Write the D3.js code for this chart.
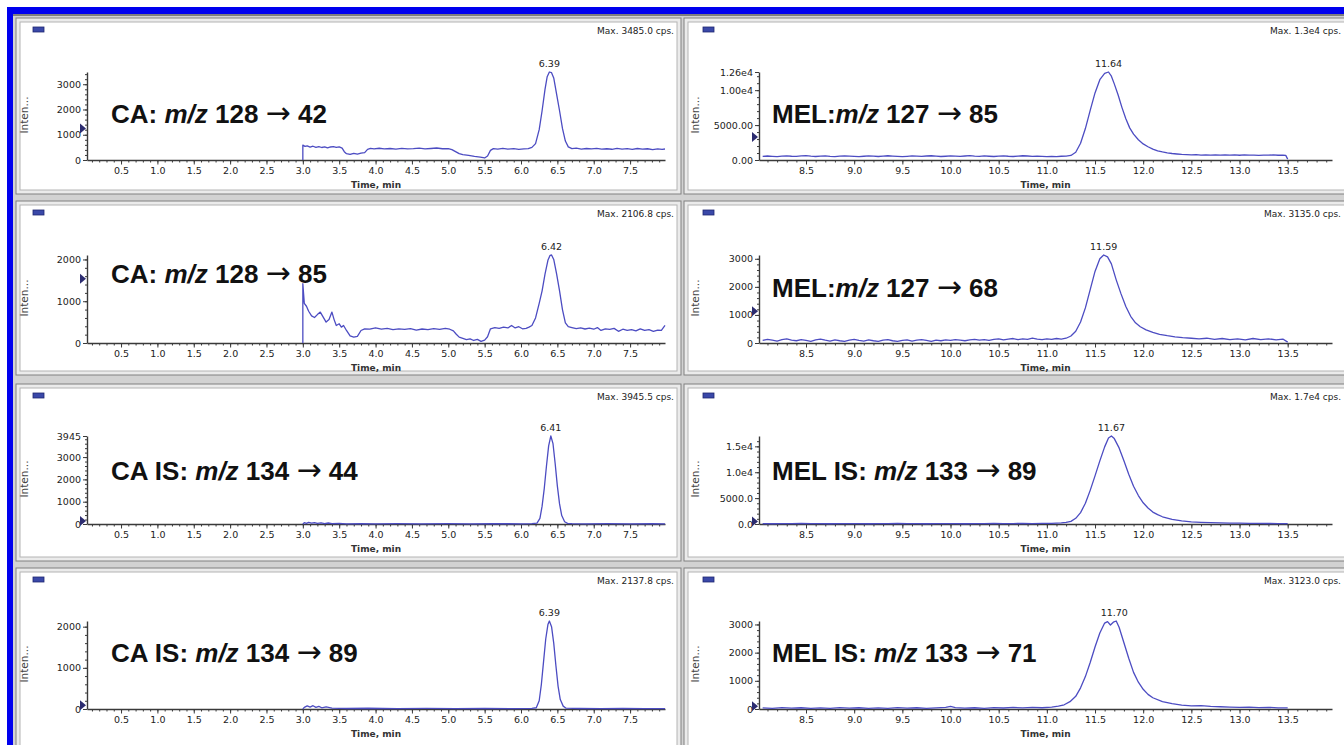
<!DOCTYPE html>
<html><head><meta charset="utf-8">
<script src="https://cdn.jsdelivr.net/npm/d3@7"></script>
<style>html,body{margin:0;padding:0;background:#fff;overflow:hidden}</style>
</head><body><svg id="c" width="1344" height="745"></svg>
<script>
// ---------------- DATA ----------------
const titleLead = ["CA: ", "CA: ", "CA IS: ", "CA IS: ", "MEL:", "MEL:", "MEL IS: ", "MEL IS: "];
const titlePrecursor = ["128", "128", "134", "134", "127", "127", "133", "133"];
const titleProduct = ["42", "85", "44", "89", "85", "68", "89", "71"];
const maxTexts = ["Max. 3485.0 cps.", "Max. 2106.8 cps.", "Max. 3945.5 cps.", "Max. 2137.8 cps.", "Max. 1.3e4 cps.", "Max. 3135.0 cps.", "Max. 1.7e4 cps.", "Max. 3123.0 cps."];
const peakTexts = ["6.39", "6.42", "6.41", "6.39", "11.64", "11.59", "11.67", "11.70"];
const peakTimes = [6.39, 6.42, 6.41, 6.39, 11.64, 11.59, 11.67, 11.70];
const yMax = [3485, 2106.8, 3945, 2137.8, 12600, 3135, 17000, 3123];
const yTicks = [[0,1000,2000,3000],[0,1000,2000],[0,1000,2000,3000,3945],[0,1000,2000],
                [0,5000,10000,12600],[0,1000,2000,3000],[0,5000,10000,15000],[0,1000,2000,3000]];
const yTickLabels = [["0","1000","2000","3000"],["0","1000","2000"],["0","1000","2000","3000","3945"],["0","1000","2000"],
                     ["0.00","5000.00","1.00e4","1.26e4"],["0","1000","2000","3000"],["0.0","5000.0","1.0e4","1.5e4"],["0","1000","2000","3000"]];
const yMinorStep = [200, 200, 200, 200, 1000, 200, 1000, 200];
const markerValues = [1250, 1540, 130, 90, 3300, 1130, 500, 100];
const xTicksLeft = [0.5,1.0,1.5,2.0,2.5,3.0,3.5,4.0,4.5,5.0,5.5,6.0,6.5,7.0,7.5];
const xTicksRight = [8.5,9.0,9.5,10.0,10.5,11.0,11.5,12.0,12.5,13.0,13.5];

const traceCA42 = [[3.00,0],[3.00,590],[3.03,540],[3.06,560],[3.10,510],[3.14,545],[3.18,500],[3.22,530],[3.26,495],[3.30,520],[3.34,480],[3.38,515],[3.42,530],[3.46,500],[3.50,520],[3.54,470],[3.57,330],[3.60,250],[3.65,220],[3.70,265],[3.75,230],[3.80,270],[3.85,290],[3.89,420],[3.93,460],[3.98,440],[4.05,465],[4.12,440],[4.20,455],[4.28,430],[4.36,460],[4.44,440],[4.52,450],[4.60,470],[4.68,440],[4.76,455],[4.84,475],[4.92,445],[5.00,450],[5.05,410],[5.10,330],[5.15,250],[5.20,210],[5.28,180],[5.36,140],[5.44,110],[5.50,80],[5.54,160],[5.58,380],[5.62,450],[5.68,430],[5.75,460],[5.82,430],[5.90,450],[5.97,420],[6.04,440],[6.10,450],[6.15,500],[6.20,650],[6.25,1200],[6.29,1950],[6.33,2800],[6.36,3300],[6.39,3485],[6.42,3460],[6.45,3250],[6.49,2600],[6.53,1950],[6.57,1250],[6.61,750],[6.65,520],[6.70,450],[6.76,470],[6.83,430],[6.90,455],[6.97,440],[7.04,460],[7.11,430],[7.18,445],[7.25,425],[7.32,460],[7.39,430],[7.46,450],[7.53,420],[7.60,455],[7.67,430],[7.74,445],[7.81,415],[7.88,440],[7.94,420],[7.98,435]];
const traceCA85 = [[3.00,0],[3.00,1420],[3.02,950],[3.05,880],[3.08,760],[3.12,650],[3.16,610],[3.20,680],[3.24,740],[3.28,620],[3.32,500],[3.36,560],[3.40,740],[3.43,560],[3.46,420],[3.50,460],[3.53,380],[3.56,420],[3.60,300],[3.65,170],[3.70,140],[3.75,160],[3.80,300],[3.85,340],[3.92,330],[4.00,360],[4.08,330],[4.16,350],[4.24,320],[4.32,340],[4.40,325],[4.48,345],[4.56,310],[4.64,335],[4.72,320],[4.80,345],[4.88,325],[4.96,350],[5.02,330],[5.07,290],[5.11,210],[5.15,140],[5.20,110],[5.25,80],[5.30,100],[5.35,60],[5.40,85],[5.45,40],[5.50,70],[5.54,150],[5.58,340],[5.64,370],[5.70,350],[5.76,380],[5.82,360],[5.87,420],[5.92,360],[5.97,390],[6.02,340],[6.07,350],[6.11,380],[6.15,420],[6.20,600],[6.25,950],[6.29,1250],[6.33,1650],[6.37,1980],[6.40,2100],[6.42,2107],[6.45,2000],[6.49,1650],[6.53,1250],[6.57,800],[6.61,480],[6.65,390],[6.70,370],[6.76,345],[6.82,360],[6.88,335],[6.94,355],[7.00,330],[7.05,370],[7.10,300],[7.16,340],[7.22,325],[7.28,350],[7.34,280],[7.40,330],[7.46,300],[7.52,320],[7.58,290],[7.64,340],[7.70,300],[7.76,320],[7.82,280],[7.88,310],[7.93,300],[7.98,420]];
const traceCAIS44 = [[3.00,0],[3.02,60],[3.05,25],[3.08,70],[3.12,35],[3.16,65],[3.20,30],[3.25,55],[3.30,20],[3.35,45],[3.40,15],[3.50,25],[3.60,10],[3.80,20],[4.00,10],[4.30,15],[4.60,8],[5.00,15],[5.30,5],[5.60,12],[6.00,10],[6.15,15],[6.22,40],[6.26,250],[6.29,800],[6.32,1600],[6.35,2600],[6.38,3500],[6.41,3945],[6.44,3600],[6.47,2700],[6.50,1700],[6.53,900],[6.56,380],[6.60,100],[6.64,30],[6.70,15],[6.90,10],[7.20,15],[7.50,8],[7.80,12],[7.98,10]];
const traceCAIS89 = [[3.00,0],[3.02,40],[3.06,75],[3.10,45],[3.14,80],[3.18,40],[3.22,65],[3.26,30],[3.32,50],[3.40,20],[3.60,12],[3.90,18],[4.30,10],[4.70,15],[5.10,8],[5.50,12],[5.90,10],[6.15,15],[6.21,30],[6.25,200],[6.28,600],[6.31,1150],[6.34,1700],[6.37,2050],[6.39,2137],[6.42,2000],[6.45,1600],[6.48,1050],[6.51,550],[6.54,230],[6.58,70],[6.62,20],[6.80,12],[7.10,8],[7.40,12],[7.70,8],[7.98,10]];
const traceMEL85 = [[8.05,520],[8.10,570],[8.15,530],[8.20,490],[8.25,560],[8.30,600],[8.35,540],[8.40,510],[8.45,580],[8.50,620],[8.55,550],[8.60,500],[8.65,560],[8.70,590],[8.75,530],[8.80,490],[8.85,550],[8.90,600],[8.95,560],[9.00,520],[9.05,480],[9.10,540],[9.15,590],[9.20,550],[9.25,500],[9.30,560],[9.35,610],[9.40,560],[9.45,510],[9.50,470],[9.55,530],[9.60,590],[9.65,560],[9.70,520],[9.75,570],[9.80,610],[9.85,550],[9.90,500],[9.95,540],[10.00,590],[10.05,550],[10.10,510],[10.15,570],[10.20,620],[10.25,560],[10.30,520],[10.35,580],[10.40,540],[10.45,500],[10.50,560],[10.55,600],[10.60,540],[10.65,500],[10.70,560],[10.75,610],[10.80,570],[10.85,520],[10.90,560],[10.95,510],[11.00,470],[11.05,530],[11.10,480],[11.15,540],[11.20,560],[11.25,650],[11.30,1100],[11.35,2400],[11.40,4500],[11.45,7100],[11.50,9600],[11.55,11500],[11.60,12400],[11.64,12600],[11.67,12000],[11.70,10900],[11.74,9300],[11.78,7500],[11.82,5900],[11.86,4600],[11.90,3700],[11.95,2900],[12.00,2300],[12.05,1900],[12.10,1550],[12.15,1300],[12.20,1150],[12.25,1020],[12.30,930],[12.35,860],[12.40,800],[12.45,760],[12.50,720],[12.55,760],[12.60,700],[12.65,740],[12.70,690],[12.75,730],[12.80,700],[12.85,740],[12.90,690],[12.95,720],[13.00,680],[13.05,720],[13.10,690],[13.15,710],[13.20,670],[13.25,700],[13.30,690],[13.35,720],[13.40,680],[13.45,700],[13.48,660],[13.50,120]];
const traceMEL68 = [[8.05,90],[8.10,130],[8.15,100],[8.20,70],[8.25,120],[8.30,150],[8.35,100],[8.40,80],[8.45,120],[8.50,90],[8.55,60],[8.60,110],[8.65,140],[8.70,100],[8.75,70],[8.80,110],[8.85,80],[8.90,60],[8.95,100],[9.00,130],[9.05,90],[9.10,70],[9.15,110],[9.20,80],[9.25,60],[9.30,100],[9.35,120],[9.40,80],[9.45,60],[9.50,90],[9.55,110],[9.60,70],[9.65,100],[9.70,120],[9.75,90],[9.80,60],[9.85,100],[9.90,80],[9.95,110],[10.00,90],[10.05,120],[10.10,100],[10.15,80],[10.20,110],[10.25,130],[10.30,100],[10.35,120],[10.40,90],[10.45,130],[10.50,150],[10.55,110],[10.60,140],[10.65,160],[10.70,120],[10.75,150],[10.80,130],[10.85,170],[10.90,140],[10.95,120],[11.00,150],[11.05,130],[11.10,160],[11.15,140],[11.20,170],[11.25,250],[11.30,420],[11.35,750],[11.40,1250],[11.45,1900],[11.50,2550],[11.55,3000],[11.59,3135],[11.63,3070],[11.67,2820],[11.72,2250],[11.77,1750],[11.82,1300],[11.87,950],[11.92,720],[11.97,580],[12.03,470],[12.10,380],[12.17,310],[12.25,260],[12.33,220],[12.41,190],[12.50,170],[12.58,150],[12.66,170],[12.74,130],[12.82,160],[12.90,120],[12.98,150],[13.06,110],[13.14,160],[13.22,120],[13.30,150],[13.38,110],[13.45,140],[13.50,30]];
const traceMELIS89 = [[8.05,80],[8.15,50],[8.25,90],[8.35,60],[8.45,100],[8.55,60],[8.65,90],[8.75,50],[8.85,80],[8.95,60],[9.05,90],[9.15,50],[9.25,80],[9.35,60],[9.45,100],[9.55,60],[9.65,80],[9.75,50],[9.85,90],[9.95,60],[10.05,80],[10.15,50],[10.25,90],[10.35,70],[10.45,100],[10.55,70],[10.65,90],[10.75,110],[10.85,80],[10.95,120],[11.05,130],[11.15,200],[11.20,300],[11.25,500],[11.30,1100],[11.35,2200],[11.40,4000],[11.45,6500],[11.50,9300],[11.55,12200],[11.60,14900],[11.64,16600],[11.67,17000],[11.70,16500],[11.75,14700],[11.80,12200],[11.85,9600],[11.90,7300],[11.95,5500],[12.00,4100],[12.05,3100],[12.10,2300],[12.15,1800],[12.20,1400],[12.30,900],[12.40,600],[12.50,420],[12.60,330],[12.70,260],[12.80,210],[12.90,180],[13.00,150],[13.10,130],[13.20,110],[13.30,100],[13.40,90],[13.50,80]];
const traceMELIS71 = [[8.05,40],[8.15,20],[8.25,50],[8.35,30],[8.45,45],[8.55,20],[8.65,40],[8.75,25],[8.85,50],[8.95,30],[9.05,45],[9.15,20],[9.25,40],[9.35,25],[9.45,50],[9.55,30],[9.65,45],[9.75,25],[9.85,40],[9.95,60],[10.00,90],[10.05,50],[10.15,30],[10.25,45],[10.35,25],[10.45,50],[10.55,35],[10.65,55],[10.75,40],[10.85,60],[10.95,45],[11.05,70],[11.12,100],[11.18,150],[11.24,260],[11.30,450],[11.35,750],[11.40,1150],[11.45,1650],[11.50,2200],[11.55,2700],[11.60,3050],[11.63,3100],[11.66,2980],[11.69,3080],[11.72,3123],[11.75,2900],[11.80,2350],[11.85,1800],[11.90,1300],[11.95,950],[12.00,700],[12.05,520],[12.10,400],[12.20,260],[12.30,190],[12.40,140],[12.50,110],[12.60,120],[12.70,90],[12.80,80],[12.90,70],[13.00,60],[13.10,70],[13.20,50],[13.30,60],[13.40,40],[13.50,40]];
const traces = [traceCA42, traceCA85, traceCAIS44, traceCAIS89, traceMEL85, traceMEL68, traceMELIS89, traceMELIS71];

// ---------------- LAYOUT ----------------
const cols = [
  {x0:20, x1:677, ax0:87, ax1:665, dom:[0.032, 7.98], ticks:xTicksLeft, inten:28, title:111, legend:33, maxR:674},
  {x0:688, x1:1356, ax0:759, ax1:1332, dom:[8.012, 13.96], ticks:xTicksRight, inten:699, title:772, legend:703, maxR:1341}
];
const rows = [
  {y0:22, y1:190, base:160},
  {y0:205, y1:371, base:343},
  {y0:388, y1:557, base:524},
  {y0:572, y1:752, base:709}
];
const titleBase = [123, 283, 480, 662, 123, 297, 480, 662];
const PLOT_H = 88;
const FONT = "'DejaVu Sans', sans-serif";
const TITLE_FONT = "'Liberation Sans', Arial, sans-serif";
const LINE_COLOR = "#4c4cc2";
const AXIS_COLOR = "#3a3a3a";

const svg = d3.select("#c");
svg.append("rect").attr("width",1344).attr("height",745).attr("fill","#fff");
svg.append("rect").attr("x",13).attr("y",14).attr("width",1331).attr("height",731).attr("fill","#d2d2d2");
svg.append("rect").attr("x",7).attr("y",7).attr("width",1337).attr("height",7).attr("fill","#0000ee");
svg.append("rect").attr("x",7).attr("y",7).attr("width",6).attr("height",738).attr("fill","#0000ee");
svg.append("rect").attr("x",13).attr("y",14).attr("width",1331).attr("height",2).attr("fill","#7e7e7e");

traces.forEach((tr, p) => {
  const c = cols[p < 4 ? 0 : 1], r = rows[p % 4];
  const g = svg.append("g");
  g.append("rect").attr("x", c.x0-4).attr("y", r.y0-4).attr("width", c.x1-c.x0+8).attr("height", r.y1-r.y0+8)
    .attr("fill","#ebebeb").attr("stroke","#808080");
  g.append("rect").attr("x", c.x0).attr("y", r.y0).attr("width", c.x1-c.x0).attr("height", r.y1-r.y0)
    .attr("fill","#fff").attr("stroke","#b4b4b4");

  const x = d3.scaleLinear().domain(c.dom).range([c.ax0, c.ax1]);
  const y = d3.scaleLinear().domain([0, yMax[p]]).range([r.base, r.base - PLOT_H]);

  g.append("rect").attr("x", c.legend).attr("y", r.y0+5).attr("width", 11).attr("height", 5)
    .attr("fill","#3a48a8").attr("stroke","#1e2670").attr("stroke-width",0.8);
  g.append("text").attr("x", c.maxR).attr("y", r.y0+12).attr("text-anchor","end")
    .attr("font-family", FONT).attr("font-size", 9).attr("fill","#222").text(maxTexts[p]);
  g.append("text").attr("transform", `translate(${c.inten},${r.base-45}) rotate(-90)`)
    .attr("text-anchor","middle").attr("font-family", FONT).attr("font-size", 10.5).attr("fill","#444").text("Inten...");

  const xMinor = d3.range(Math.ceil(c.dom[0]*10), Math.floor(c.dom[1]*10)+1).map(k => k/10);
  const gxm = g.append("g").attr("transform", `translate(0,${r.base})`)
    .call(d3.axisBottom(x).tickValues(xMinor).tickSize(2.5).tickSizeOuter(0).tickFormat(""));
  gxm.select(".domain").remove();
  const gx = g.append("g").attr("transform", `translate(0,${r.base})`)
    .call(d3.axisBottom(x).tickValues(c.ticks).tickSize(4.5).tickSizeOuter(0).tickPadding(3).tickFormat(d3.format(".1f")));
  const ym = d3.range(0, yMax[p], yMinorStep[p]);
  const gym = g.append("g").attr("transform", `translate(${c.ax0},0)`)
    .call(d3.axisLeft(y).tickValues(ym).tickSize(2).tickSizeOuter(0).tickFormat(""));
  gym.select(".domain").remove();
  const gy = g.append("g").attr("transform", `translate(${c.ax0},0)`)
    .call(d3.axisLeft(y).tickValues(yTicks[p]).tickSize(4).tickSizeOuter(0).tickPadding(2)
      .tickFormat((d, i) => yTickLabels[p][i]));
  [gx, gy, gxm, gym].forEach(a => {
    a.selectAll("line").attr("stroke", AXIS_COLOR);
    a.selectAll(".domain").attr("stroke", AXIS_COLOR).attr("stroke-width", 1.4);
    a.selectAll("text").attr("font-family", FONT).attr("font-size", 9.5).attr("fill", "#222");
  });

  g.append("text").attr("x", (c.ax0 + c.ax1)/2).attr("y", r.base + 28).attr("text-anchor","middle")
    .attr("font-family", FONT).attr("font-size", 9).attr("font-weight","bold").attr("fill","#333").text("Time, min");

  const my = y(markerValues[p]);
  g.append("path").attr("d", `M${c.ax0-7},${my-5}L${c.ax0-7},${my+5}L${c.ax0-1},${my}Z`).attr("fill","#2c2c70");

  const line = d3.line().x(d => x(d[0])).y(d => y(d[1]));
  g.append("path").datum(tr).attr("d", line).attr("fill","none").attr("stroke", LINE_COLOR)
    .attr("stroke-width", 1.3).attr("stroke-linejoin","round");

  const pk = d3.max(tr, d => d[1]);
  g.append("text").attr("x", x(peakTimes[p])).attr("y", y(pk) - 5).attr("text-anchor","middle")
    .attr("font-family", FONT).attr("font-size", 9.5).attr("fill","#222").text(peakTexts[p]);

  const t = g.append("text").attr("x", c.title).attr("y", titleBase[p])
    .attr("font-family", TITLE_FONT).attr("font-size", 26).attr("font-weight","bold").attr("fill","#111");
  t.append("tspan").text(titleLead[p]);
  t.append("tspan").attr("font-style","italic").text("m/z");
  t.append("tspan").text(" " + titlePrecursor[p] + " ");
  t.append("tspan").attr("font-family", FONT).attr("font-weight","normal").attr("font-size", 30).text("\u2192");
  t.append("tspan").text(" " + titleProduct[p]);
});
</script></body></html>
